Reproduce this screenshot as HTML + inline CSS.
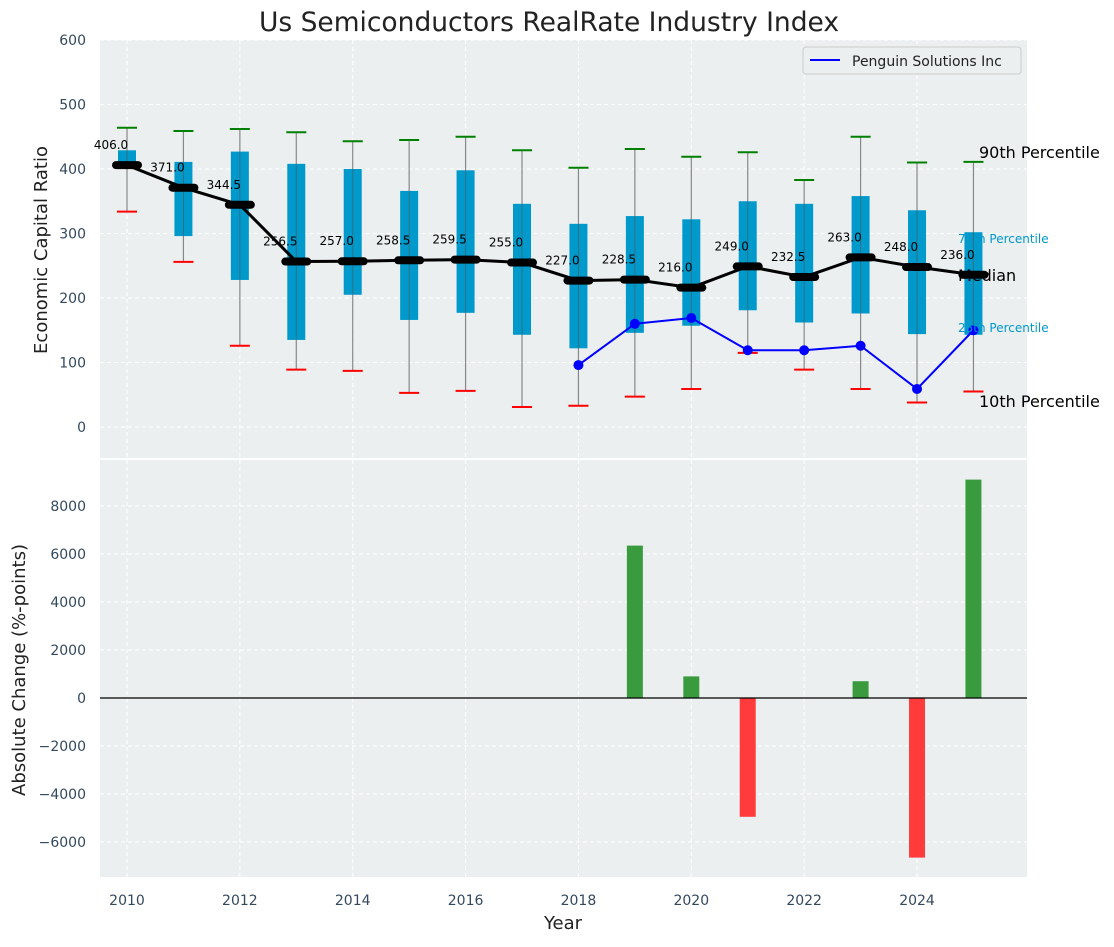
<!DOCTYPE html>
<html><head><meta charset="utf-8"><style>
body{margin:0;background:#fff;}
svg text{font-family:"DejaVu Sans","Liberation Sans",sans-serif;}
</style></head><body>
<svg id="chart" width="1114" height="942" xmlns="http://www.w3.org/2000/svg">
<text x="549" y="31" font-size="26.5" text-anchor="middle" fill="#222">Us Semiconductors RealRate Industry Index</text>
<rect x="100" y="40" width="927" height="418" fill="#ebeff0"/>
<rect x="100" y="460" width="927" height="417" fill="#ebeff0"/>
<g id="gtop"></g><g id="gbot"></g>
<text transform="translate(47,250) rotate(-90)" font-size="18" text-anchor="middle" fill="#222">Economic Capital Ratio</text>
<text transform="translate(25,670) rotate(-90)" font-size="18" text-anchor="middle" fill="#222">Absolute Change (%-points)</text>
<text x="563" y="929" font-size="18" text-anchor="middle" fill="#222">Year</text>
<g>
<rect x="803" y="47" width="218" height="27" fill="#ebeff0" stroke="#ccc" rx="3"/>
<line x1="810" y1="60" x2="840" y2="60" stroke="blue" stroke-width="2"/>
<text x="852" y="66" font-size="14" fill="#222">Penguin Solutions Inc</text>
</g>
<text x="979" y="158" font-size="16" fill="#000">90th Percentile</text>
<text x="958" y="243" font-size="12" fill="#0099cc">75th Percentile</text>
<text x="958" y="281" font-size="16" fill="#000">Median</text>
<text x="958" y="332" font-size="12" fill="#0099cc">25th Percentile</text>
<text x="979" y="407" font-size="16" fill="#000">10th Percentile</text>
</svg>
<script>
const years=[2010,2011,2012,2013,2014,2015,2016,2017,2018,2019,2020,2021,2022,2023,2024,2025];
const p90=[464,459,462,457,443,445,450,429,402,431,419,426,383,450,410,411];
const p75=[429,411,427,408,400,366,398,346,315,327,322,350,346,358,336,302];
const median=[406,371,344.5,256.5,257,258.5,259.5,255,227,228.5,216,249,232.5,263,248,236];
const p25=[401,296,228,135,205,166,177,143,122,146,157,181,162,176,144,143];
const p10=[334,256,126,89,87,53,56,31,33,47,59,115,89,59,38,55];
const penguinYears=[2018,2019,2020,2021,2022,2023,2024,2025];
const penguinVals=[96,160,169,119,119,126,59,150];
const changeYears=[2019,2020,2021,2023,2024,2025];
const changeVals=[6350,900,-4950,700,-6650,9100];
const topTicks=[0,100,200,300,400,500,600];
const botTicks=[-6000,-4000,-2000,0,2000,4000,6000,8000];
const xTicks=[2010,2012,2014,2016,2018,2020,2022,2024];

const NS='http://www.w3.org/2000/svg';
const X=y=>127+(y-2010)*56.43;
const YT=v=>427-v*0.645;
const YB=v=>698-v*0.024;
function mk(tag,attrs,parent,txt){const e=document.createElementNS(NS,tag);for(const k in attrs)e.setAttribute(k,attrs[k]);if(txt!==undefined)e.textContent=txt;parent.appendChild(e);return e;}
const gTop=document.getElementById('gtop'),gBot=document.getElementById('gbot');
topTicks.forEach(t=>{mk('line',{x1:100,x2:1027,y1:YT(t),y2:YT(t),stroke:'#fff','stroke-dasharray':'4,3'},gTop);
 const l=mk('text',{x:86,y:YT(t)+5,'font-size':14,'text-anchor':'end',fill:'#34495e'},gTop,String(t));
 
 });
botTicks.forEach(t=>{mk('line',{x1:100,x2:1027,y1:YB(t),y2:YB(t),stroke:'#fff','stroke-dasharray':'4,3'},gBot);
 const l=mk('text',{x:86,y:YB(t)+5,'font-size':14,'text-anchor':'end',fill:'#34495e'},gBot,String(t).replace('-','\u2212'));
 
 });
xTicks.forEach(t=>{mk('line',{x1:X(t),x2:X(t),y1:40,y2:458,stroke:'#fff','stroke-dasharray':'4,3'},gTop);
 mk('line',{x1:X(t),x2:X(t),y1:460,y2:877,stroke:'#fff','stroke-dasharray':'4,3'},gBot);
 const l=mk('text',{x:X(t),y:905,'font-size':14,'text-anchor':'middle',fill:'#34495e'},gBot,String(t));
 
 });
years.forEach((y,i)=>{const x=X(y);
 const w=mk('line',{x1:x,x2:x,y1:YT(p90[i]),y2:YT(p10[i]),stroke:'#888','stroke-width':1.2},gTop);
 
 
 const b=mk('rect',{x:x-9,y:YT(p75[i]),width:18,height:YT(p25[i])-YT(p75[i]),fill:'#0099cc'},gTop);
 
 
 mk('line',{x1:x,x2:x,y1:YT(p75[i]),y2:YT(p25[i]),stroke:'#555','stroke-width':1,opacity:0.6},gTop);
 mk('line',{x1:x-10,x2:x+10,y1:YT(p90[i]),y2:YT(p90[i]),stroke:'green','stroke-width':2},gTop);
 mk('line',{x1:x-10,x2:x+10,y1:YT(p10[i]),y2:YT(p10[i]),stroke:'red','stroke-width':2},gTop);
});
mk('polyline',{points:years.map((y,i)=>X(y)+','+YT(median[i])).join(' '),fill:'none',stroke:'#000','stroke-width':3},gTop);
years.forEach((y,i)=>{const x=X(y),yy=YT(median[i]);
 const m=mk('line',{x1:x-11,x2:x+11,y1:yy,y2:yy,stroke:'#000','stroke-width':8,'stroke-linecap':'round'},gTop);
 
 
 const t=mk('text',{x:x-16,y:yy-16,'font-size':12,'text-anchor':'middle',fill:'#000'},gTop,median[i].toFixed(1));
 
 });
mk('polyline',{points:penguinYears.map((y,i)=>X(y)+','+YT(penguinVals[i])).join(' '),fill:'none',stroke:'blue','stroke-width':2},gTop);
penguinYears.forEach((y,i)=>{const c=mk('circle',{cx:X(y),cy:YT(penguinVals[i]),r:5,fill:'blue'},gTop);
 
 });
changeYears.forEach((y,i)=>{const v=changeVals[i];const y0=YB(Math.max(v,0)),h=Math.abs(YB(v)-YB(0));
 const r=mk('rect',{x:X(y)-8,y:y0,width:16,height:h,fill:v>=0?'#3a9b3e':'#ff3b3b'},gBot);
 
 });
mk('line',{x1:100,x2:1027,y1:YB(0),y2:YB(0),stroke:'#000','stroke-width':1.2},gBot);
</script>
</body></html>
